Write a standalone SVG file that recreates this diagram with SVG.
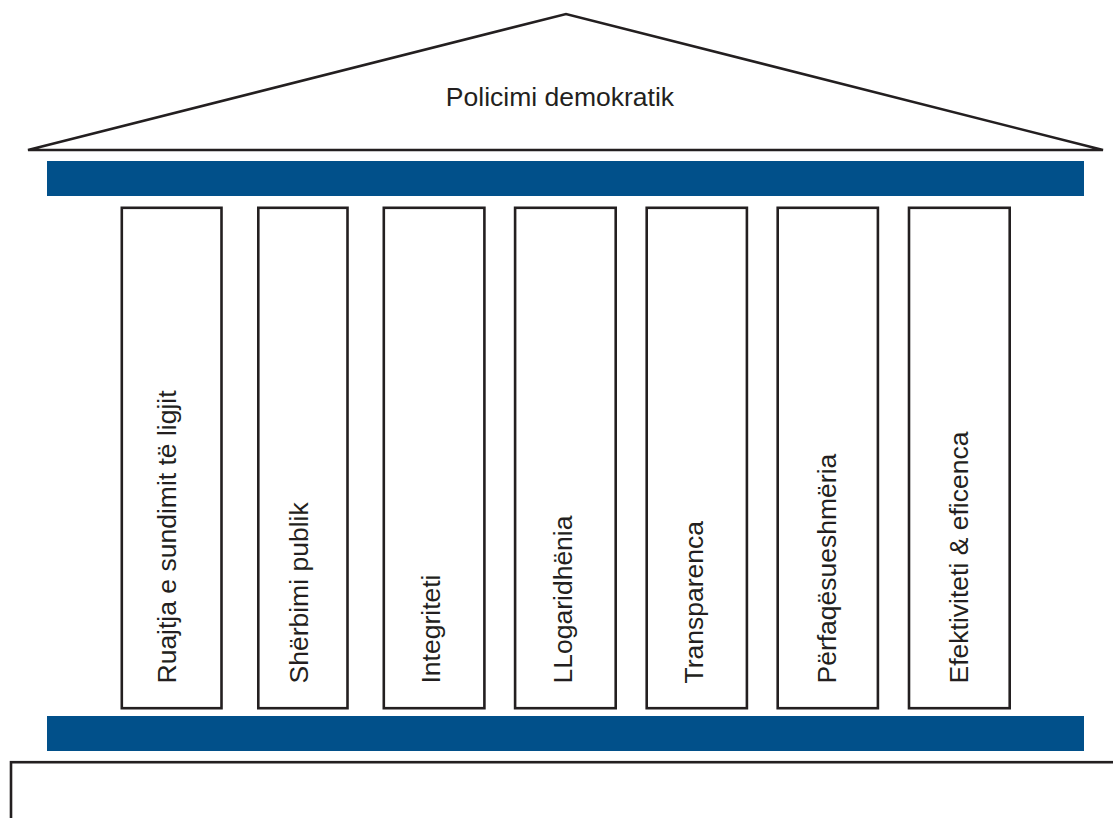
<svg xmlns="http://www.w3.org/2000/svg" width="1113" height="818" viewBox="0 0 1113 818">
  <style>
    .outline { fill: #ffffff; stroke: #231f20; stroke-width: 2.6; }
    .bar { fill: #01508a; }
    .lbl { font-family: "Liberation Sans", Arial, sans-serif; font-size: 26.5px; fill: #231f20; }
  </style>
  <rect width="1113" height="818" fill="#ffffff"/>
  <g id="roof">
    <polygon class="outline" points="28,150 566,14 1103,150" stroke-width="3" stroke-linejoin="miter"/>
    <text class="lbl" x="560" y="105.5" text-anchor="middle">Policimi demokratik</text>
  </g>
  <g id="top-beam">
    <rect class="bar" x="47" y="161" width="1037" height="35"/>
  </g>
  <g id="pillar-1">
    <rect class="outline" x="121.8" y="207.8" width="99.7" height="500.4"/>
    <text class="lbl" transform="translate(176.2,683.5) rotate(-90)">Ruajtja e sundimit të ligjit</text>
  </g>
  <g id="pillar-2">
    <rect class="outline" x="258.3" y="207.8" width="89.2" height="500.4"/>
    <text class="lbl" transform="translate(308.3,683.5) rotate(-90)">Shërbimi publik</text>
  </g>
  <g id="pillar-3">
    <rect class="outline" x="383.8" y="207.8" width="100.6" height="500.4"/>
    <text class="lbl" transform="translate(440.2,683.5) rotate(-90)">Integriteti</text>
  </g>
  <g id="pillar-4">
    <rect class="outline" x="515.1" y="207.8" width="100.6" height="500.4"/>
    <text class="lbl" transform="translate(572.2,683.5) rotate(-90)">LLogaridhënia</text>
  </g>
  <g id="pillar-5">
    <rect class="outline" x="646.7" y="207.8" width="100.2" height="500.4"/>
    <text class="lbl" transform="translate(703.3,683.5) rotate(-90)">Transparenca</text>
  </g>
  <g id="pillar-6">
    <rect class="outline" x="777.7" y="207.8" width="100.2" height="500.4"/>
    <text class="lbl" transform="translate(835.6,683.5) rotate(-90)">Përfaqësueshmëria</text>
  </g>
  <g id="pillar-7">
    <rect class="outline" x="909" y="207.8" width="100.7" height="500.4"/>
    <text class="lbl" transform="translate(967.7,683.5) rotate(-90)">Efektiviteti &amp; eficenca</text>
  </g>
  <g id="bottom-beam">
    <rect class="bar" x="47" y="716" width="1037" height="35"/>
  </g>
  <g id="base">
    <rect class="outline" x="11" y="762.2" width="1120" height="100"/>
  </g>
  <g id="connectors"/>
</svg>
